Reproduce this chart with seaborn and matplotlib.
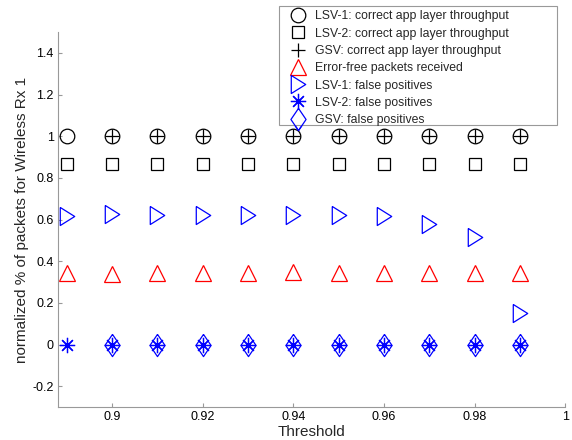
import numpy as np
import pandas as pd
import seaborn as sns
from matplotlib import pyplot as plt
from matplotlib.patches import Rectangle
from matplotlib.ticker import FuncFormatter

thresholds = [0.89, 0.90, 0.91, 0.92, 0.93, 0.94, 0.95, 0.96, 0.97, 0.98, 0.99]
lsv1_correct = [1, 1, 1, 1, 1, 1, 1, 1, 1, 1, 1]
lsv2_correct = [0.865, 0.865, 0.865, 0.865, 0.865, 0.865, 0.865, 0.865, 0.865, 0.865, 0.865]
gsv_correct = [np.nan, 1, 1, 1, 1, 1, 1, 1, 1, 1, 1]
error_free = [0.345, 0.34, 0.345, 0.345, 0.345, 0.35, 0.345, 0.345, 0.345, 0.345, 0.345]
lsv1_fp = [0.617, 0.625, 0.62, 0.62, 0.62, 0.622, 0.62, 0.618, 0.58, 0.517, 0.15]
lsv2_fp = [0, 0, 0, 0, 0, 0, 0, 0, 0, 0, 0]
gsv_fp = [np.nan, 0, 0, 0, 0, 0, 0, 0, 0, 0, 0]

sns.set_style("white")
plt.rcParams['font.family'] = ['Liberation Sans', 'DejaVu Sans']

# matlab-like markers (narrow right triangle, tall diamond)
tri_right = [(-0.8, 1), (0.8, 0), (-0.8, -1), (-0.8, 1)]
diamond = [(0, 1), (0.68, 0), (0, -1), (-0.68, 0), (0, 1)]

# label, values, marker, colour, marker size
series = [
    ("LSV-1: correct app layer throughput", lsv1_correct, "o", "black", 10.5),
    ("LSV-2: correct app layer throughput", lsv2_correct, "s", "black", 9),
    ("GSV: correct app layer throughput", gsv_correct, "+", "black", 10.5),
    ("Error-free packets received", error_free, "^", "red", 12),
    ("LSV-1: false positives", lsv1_fp, tri_right, "blue", 13),
    ("LSV-2: false positives", lsv2_fp, (8, 2, 0), "blue", 11),
    ("GSV: false positives", gsv_fp, diamond, "blue", 16),
]

fig = plt.figure(figsize=(5.72, 4.4), dpi=100)
ax = fig.add_axes([0.101, 0.075, 0.887, 0.852])

for label, vals, mk, col, ms in series:
    df = pd.DataFrame({"x": thresholds, "y": vals})
    sns.lineplot(data=df, x="x", y="y", ax=ax, marker=mk, linestyle="none",
                 color=col, mfc="none", mec=col, ms=ms, mew=0.9, label=label)

ax.set_xlim(0.888, 1.0)
ax.set_ylim(-0.3, 1.5)
ax.set_xticks(np.arange(0.9, 1.001, 0.02))
ax.set_yticks(np.arange(-0.2, 1.401, 0.2))
fmt = FuncFormatter(lambda v, p: "%g" % round(v, 2))
ax.xaxis.set_major_formatter(fmt)
ax.yaxis.set_major_formatter(fmt)
ax.tick_params(direction="in", length=3, width=0.8, color="#999999",
               labelsize=9, labelcolor="black", pad=3,
               bottom=True, left=True, top=False, right=False)

for side in ["top", "right"]:
    ax.spines[side].set_visible(False)
for side in ["left", "bottom"]:
    ax.spines[side].set_color("#999999")
    ax.spines[side].set_linewidth(0.8)

ax.set_xlabel("Threshold", fontsize=11, labelpad=1)
ax.set_ylabel("normalized % of packets for Wireless Rx 1", fontsize=11, labelpad=2)

W, H = 572.0, 440.0
leg = ax.legend(loc="upper left", bbox_to_anchor=(289.5 / W, 1 - 10.5 / H),
                bbox_transform=fig.transFigure, fontsize=8.8, frameon=False,
                handlelength=1.4, handletextpad=0.68, labelspacing=0.43,
                borderpad=0, borderaxespad=0)

# matlab legend box is wider than its content
box = Rectangle((279 / W, 1 - 125 / H), (557 - 279) / W, (125 - 6) / H,
                transform=fig.transFigure, facecolor="white",
                edgecolor="#999999", linewidth=0.8, zorder=4)
fig.add_artist(box)
leg.set_zorder(5)
fig.add_artist(leg)

plt.savefig("out.png", dpi=100)
